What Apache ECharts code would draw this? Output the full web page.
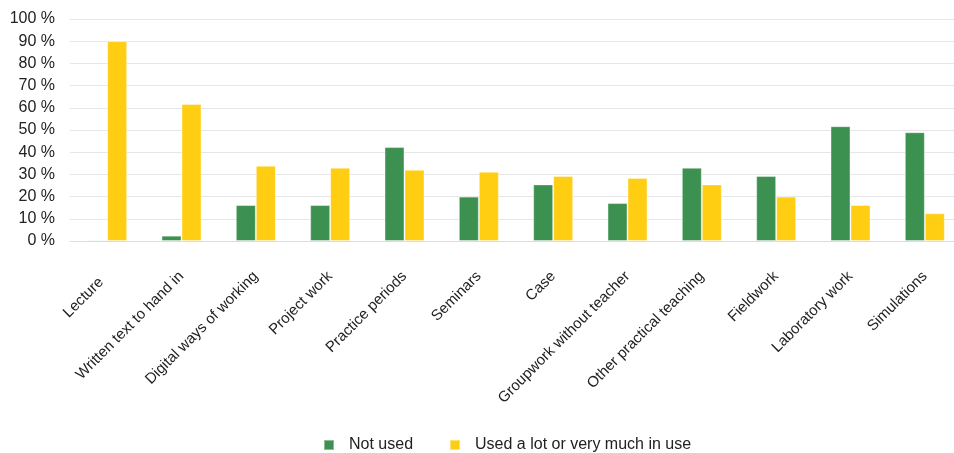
<!DOCTYPE html>
<html>
<head>
<meta charset="utf-8">
<script src="https://cdn.jsdelivr.net/npm/echarts@6/dist/echarts.min.js"></script>
<style>
  html, body { margin: 0; padding: 0; background: #fff; }
  #chart { width: 954px; height: 453px; }
</style>
</head>
<body>
<div id="chart"></div>
<script>
// teaching methods (the trailing spaces on Lecture are in the source labels)
const categories = [
  'Lecture  ', 'Written text to hand in', 'Digital ways of working', 'Project work',
  'Practice periods', 'Seminars', 'Case', 'Groupwork without teacher',
  'Other practical teaching', 'Fieldwork', 'Laboratory work', 'Simulations'
];
const notUsed = [0.5, 2.4, 16.2, 16.2, 42.3, 20, 25.5, 17.1, 33, 29.3, 51.7, 49];
const usedLot = [90, 61.7, 33.9, 33, 32.1, 31.2, 29.3, 28.4, 25.5, 20, 16.2, 12.5];
const seriesNames = ['Not used', 'Used a lot or very much in use'];

const chart = echarts.init(document.getElementById('chart'));

const option = {
  animation: false,
  color: ['#3d9150', '#ffcd12'],
  grid: {
    left: 70,
    top: 19,
    width: 892,
    bottom: 212,
    outerBoundsMode: 'none'
  },
  legend: {
    bottom: -5,
    left: 318,
    icon: 'rect',
    itemWidth: 10,
    itemHeight: 10,
    itemGap: 36,
    data: seriesNames,
    textStyle: {
      fontFamily: 'Liberation Sans, Arial',
      fontSize: 16,
      color: '#222',
      padding: [0, 0, 0, 10]
    }
  },
  xAxis: {
    type: 'category',
    data: categories,
    axisTick: { show: false },
    axisLine: { lineStyle: { color: '#dcdcdc' } },
    axisLabel: {
      interval: 0,
      rotate: 45,
      margin: 33,
      fontFamily: 'Liberation Sans, Arial',
      fontSize: 15,
      color: '#222'
    }
  },
  yAxis: {
    type: 'value',
    min: 0,
    max: 100,
    interval: 10,
    axisLabel: {
      formatter: '{value} %',
      margin: 15,
      fontFamily: 'Liberation Sans, Arial',
      fontSize: 16,
      color: '#222'
    },
    splitLine: { lineStyle: { color: '#e6e6e6' } }
  },
  series: [
    {
      name: seriesNames[0],
      type: 'bar',
      data: notUsed,
      barWidth: 20,
      barGap: '0%',
      itemStyle: { borderColor: 'rgba(255,255,255,0.4)', borderWidth: 1 }
    },
    {
      name: seriesNames[1],
      type: 'bar',
      data: usedLot,
      barWidth: 20,
      itemStyle: { borderColor: 'rgba(255,255,255,0.4)', borderWidth: 1 }
    }
  ]
};

chart.setOption(option);
</script>
</body>
</html>
